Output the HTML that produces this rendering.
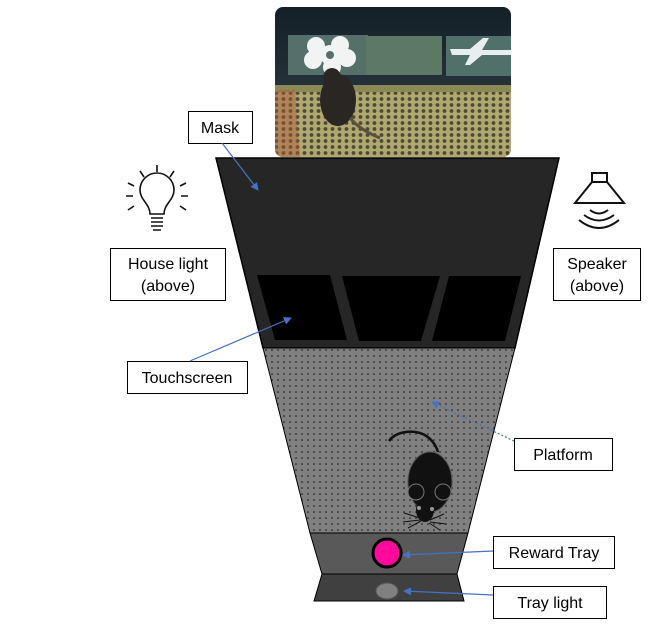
<!DOCTYPE html>
<html><head><meta charset="utf-8"><style>
html,body{margin:0;padding:0;background:#fff;}
svg{display:block;font-family:"Liberation Sans",sans-serif;}
</style></head><body>
<svg width="655" height="638" viewBox="0 0 655 638" xmlns="http://www.w3.org/2000/svg">
<defs>
<pattern id="dots" width="6" height="6" patternUnits="userSpaceOnUse"><rect width="6" height="6" fill="#808080"/><circle cx="2" cy="2" r="0.8" fill="#111"/></pattern>
<pattern id="holes" width="7" height="6" patternUnits="userSpaceOnUse"><rect width="7" height="6" fill="#b0a870"/><circle cx="3.5" cy="3" r="1.9" fill="#4a4a35"/></pattern>
<linearGradient id="ph" x1="0" y1="0" x2="0" y2="1"><stop offset="0" stop-color="#142028"/><stop offset="0.55" stop-color="#25323a"/><stop offset="1" stop-color="#2a3030"/></linearGradient>
<marker id="ah" markerWidth="8" markerHeight="8" refX="7" refY="4" orient="auto" markerUnits="userSpaceOnUse"><path d="M0,0 L8,4 L0,8 z" fill="#4472c4"/></marker>
<clipPath id="pc"><rect x="275" y="7" width="236" height="150" rx="8"/></clipPath>
</defs>
<g clip-path="url(#pc)">
<rect x="275" y="7" width="236" height="150" fill="url(#ph)"/>
<rect x="288" y="35" width="80" height="40" fill="#55706a"/>
<rect x="366" y="36" width="76" height="39" fill="#5e7866"/>
<rect x="446" y="36" width="65" height="40" fill="#52706a"/>
<g fill="#f2f4f4">
<circle cx="316" cy="46" r="9"/><circle cx="340" cy="45" r="9"/><circle cx="347" cy="58" r="9"/><circle cx="332" cy="67" r="9"/><circle cx="313" cy="60" r="9"/><circle cx="330" cy="55" r="10"/>
</g>
<circle cx="330" cy="55" r="4" fill="#55706a"/>
<path d="M450,49 L470,49 L483,38 L489,38 L482,50 L511,50 L511,55 L482,55 L470,65 L465,65 L470,55 L452,55z" fill="#e8eef0"/>
<rect x="275" y="90" width="236" height="67" fill="url(#holes)"/>
<rect x="275" y="85" width="236" height="7" fill="#8a8a55"/>
<path d="M275,90 L295,90 L300,157 L275,157z" fill="#b05a3a" opacity="0.45"/>
<ellipse cx="338" cy="100" rx="18" ry="26" fill="#2a2624"/>
<ellipse cx="332" cy="78" rx="9" ry="10" fill="#2a2624"/>
<path d="M350,118 Q360,130 380,138" stroke="#5a5040" stroke-width="3" fill="none"/>
</g>
<polygon points="216,158 559,158 515,348 263,348" fill="#262626" stroke="#000" stroke-width="1.5"/>
<polygon points="257,275 330,275 347,340 275,340" fill="#000"/>
<polygon points="342,276 440,276 421,341 359,341" fill="#000"/>
<polygon points="449,276 521,276 505,341 432,341" fill="#000"/>
<polygon points="263,348 515,348 468,533 310,533" fill="url(#dots)" stroke="#000" stroke-width="1"/>
<polygon points="310,533 468,533 457,574 322,574" fill="#595959" stroke="#000" stroke-width="1"/>
<polygon points="322,574 457,574 464,601 314,601" fill="#404040" stroke="#000" stroke-width="1"/>
<circle cx="387" cy="553" r="14" fill="#ff0a9c" stroke="#000" stroke-width="3"/>
<ellipse cx="387" cy="591" rx="11" ry="8" fill="#808080" stroke="#555" stroke-width="1"/>
<g>
<path d="M389,441 C395,432 410,430 420,433 C430,436 436,445 438,452" fill="none" stroke="#111" stroke-width="2.5"/>
<ellipse cx="430" cy="482" rx="22" ry="30" fill="#111" stroke="#555" stroke-width="1"/>
<circle cx="416" cy="492" r="8" fill="#111" stroke="#777"/>
<circle cx="443" cy="492" r="8" fill="#111" stroke="#777"/>
<ellipse cx="425" cy="510" rx="9" ry="12" fill="#111"/>
<circle cx="419" cy="508" r="2" fill="#999"/><circle cx="432" cy="509" r="2" fill="#999"/>
<path d="M420,518 L404,513 M420,520 L403,522 M421,521 L408,528 M430,520 L444,514 M430,522 L446,524 M429,523 L440,530" stroke="#111" stroke-width="1"/>
</g>
<g fill="none" stroke="#111" stroke-width="1.6">
<path d="M150,214 C150,204 140,200 140,190 A17,17 0 1 1 174,190 C174,200 164,204 164,214 Z"/>
<path d="M151,218 H163 M151,222 H163 M151,226 H163 M153,230 H161"/>
<path d="M157,165 V172 M140,171 L144,177 M174,171 L170,177 M128,183 L134,186 M186,183 L180,186 M126,196 H133 M188,196 H181 M128,210 L134,206 M186,210 L180,206"/>
</g>
<g fill="none" stroke="#111" stroke-width="2">
<rect x="592" y="173" width="15" height="9"/>
<path d="M592,182 L575,203 H624 L607,182"/>
<path d="M590,210 Q599,217 608,210 M584,215 Q599,226 614,215 M579,220 Q599,236 619,220"/>
</g>
<g fill="#fff" stroke="#000" stroke-width="1">
<rect x="188.5" y="111.5" width="64" height="32"/>
<rect x="110.5" y="248.5" width="115" height="52"/>
<rect x="553.5" y="248.5" width="87" height="52"/>
<rect x="127.5" y="361.5" width="120" height="32"/>
<rect x="514.5" y="438.5" width="98" height="32"/>
<rect x="493.5" y="536.5" width="121" height="32"/>
<rect x="493.5" y="586.5" width="113" height="32"/>
</g>
<g font-size="16" fill="#000" text-anchor="middle">
<text x="220" y="133">Mask</text>
<text x="168" y="269">House light</text><text x="168" y="291">(above)</text>
<text x="597" y="269">Speaker</text><text x="597" y="291">(above)</text>
<text x="187" y="383">Touchscreen</text>
<text x="563" y="460">Platform</text>
<text x="554" y="558">Reward Tray</text>
<text x="550" y="608">Tray light</text>
</g>
<g stroke="#4472c4" stroke-width="1.2" fill="none" marker-end="url(#ah)">
<line x1="222" y1="143" x2="258" y2="190"/>
<line x1="190" y1="361" x2="291" y2="318"/>
<line x1="514" y1="441" x2="432" y2="402" stroke-dasharray="2,2"/>
<line x1="493" y1="551" x2="403" y2="555"/>
<line x1="493" y1="595" x2="404" y2="591"/>
</g>
</svg>
</body></html>
